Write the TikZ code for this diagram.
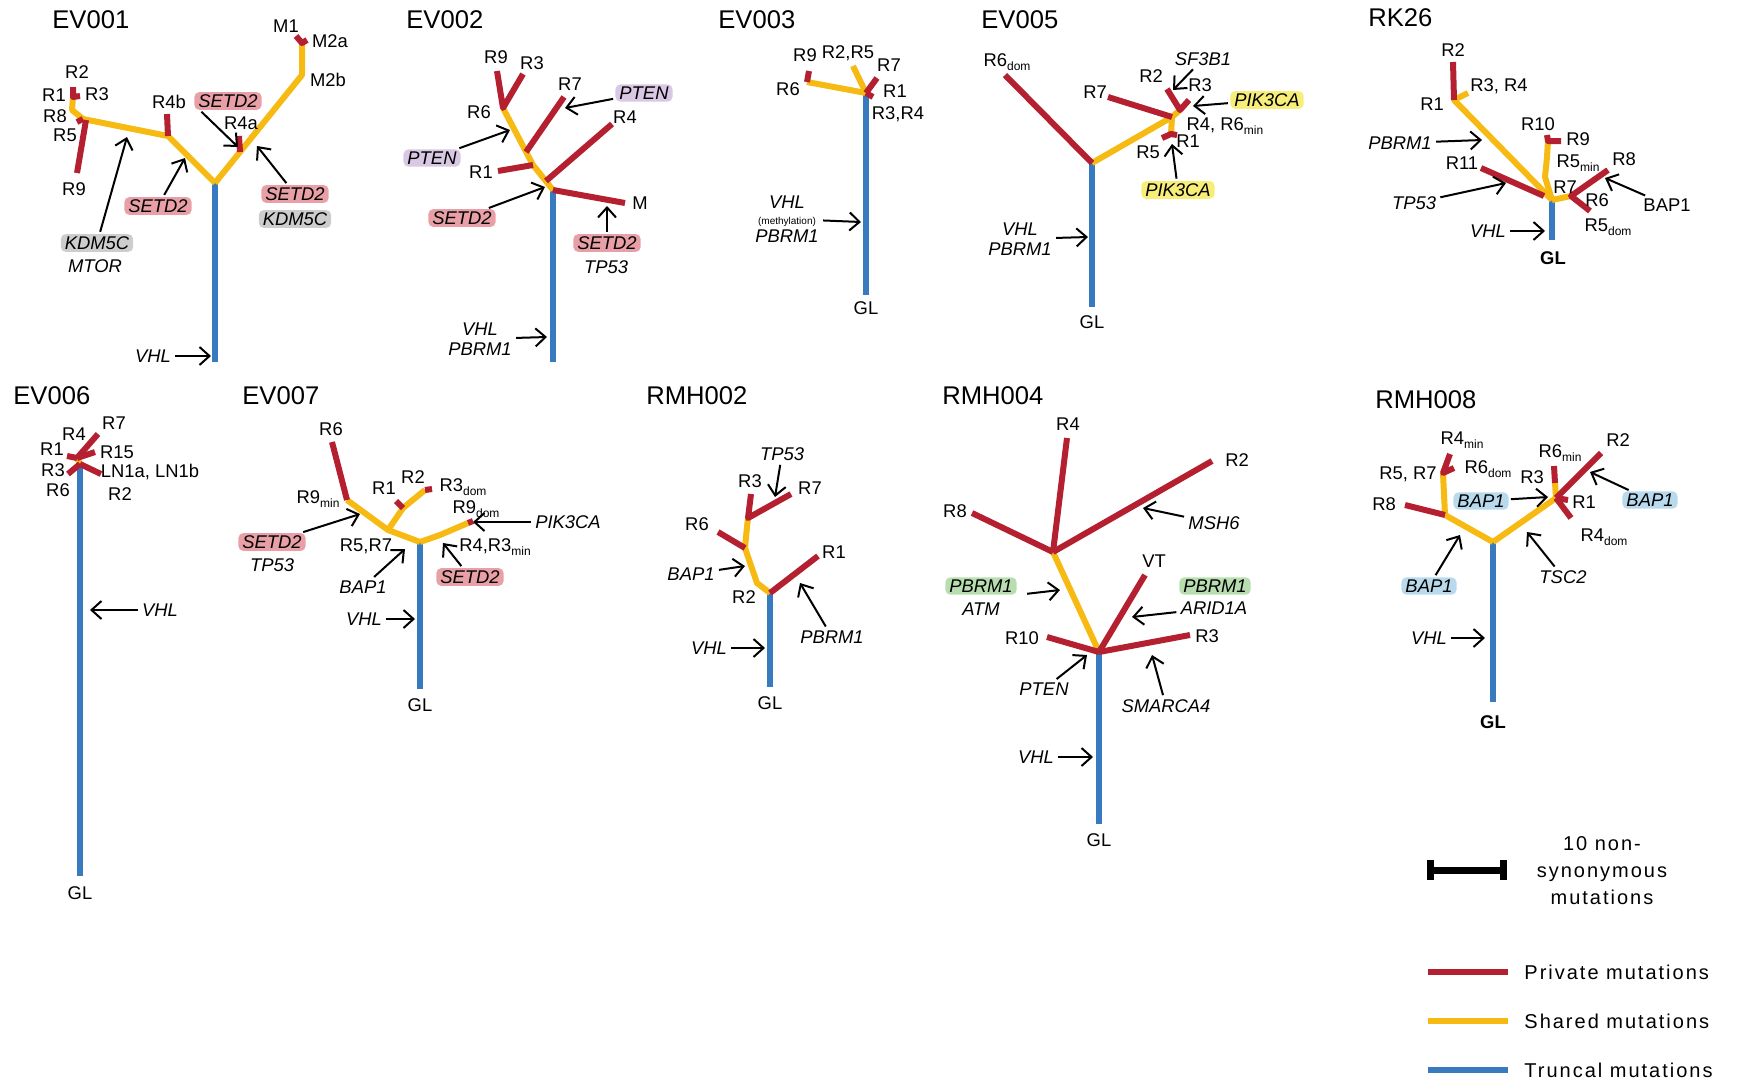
\documentclass[tikz,border=0pt]{standalone}
\usepackage{fontspec}
\setmainfont{Liberation Sans}
\usetikzlibrary{arrows.meta}

\definecolor{privred}{RGB}{180,32,48}
\definecolor{shrdyel}{RGB}{246,186,18}
\definecolor{trnkblu}{RGB}{56,122,192}
\definecolor{hlsetd}{RGB}{232,160,166}
\definecolor{hlkdm}{RGB}{205,205,205}
\definecolor{hlpten}{RGB}{216,200,228}
\definecolor{hlpik}{RGB}{246,238,120}
\definecolor{hlpbrm}{RGB}{184,222,176}
\definecolor{hlbap}{RGB}{184,218,236}

\newcommand{\subtx}[1]{\raisebox{-0.45ex}{\fontsize{6}{6}\selectfont #1}}

\tikzset{
	priv/.style={draw=privred, line width=3pt, line join=round},
	shrd/.style={draw=shrdyel, line width=3pt, line join=round},
	trnk/.style={draw=trnkblu, line width=3pt},
	hit/.style={line width=1pt, shorten <=1pt, -{Straight Barb[length=5pt,width=9pt]}},
	lbl/.style={font=\fontsize{9.2}{10}\selectfont, inner sep=1pt},
	glb/.style={font=\fontsize{9.2}{10}\selectfont\bfseries, inner sep=1pt},
	gene/.style={font=\fontsize{9.2}{10}\selectfont\itshape, inner sep=1pt},
	hl/.style={gene, fill=#1, rounded corners=2.5pt, inner xsep=2pt, inner ysep=1.2pt},
	ttl/.style={font=\fontsize{12.8}{14}\selectfont, anchor=west, inner sep=0pt},
	keytxt/.style={font=\fontsize{10}{13.5}\selectfont\addfontfeature{LetterSpace=10}, inner sep=0pt},
}

\begin{document}
\begin{tikzpicture}[x=0.5pt, y=-0.5pt]

% frame %{{{2

	\useasboundingbox (0,0) rectangle (1741,1082);

% EV001 %{{{2

\begin{scope}[name prefix=a-]

	\node[ttl] (T) at (52,20) {EV001};

	\coordinate (J) at (215,183);
	\coordinate (G) at (215,362);
	\coordinate (L1) at (168,136);
	\coordinate (L2) at (83,119);
	\coordinate (L3) at (72,110);
	\coordinate (L4) at (73,97);
	\coordinate (L5) at (86,120);
	\coordinate (U1) at (240,152);
	\coordinate (U2) at (302,75);
	\coordinate (U3) at (302,43);

	\draw[trnk] (J) -- (G);
	\draw[shrd] (J) -- (L1) -- (L2) -- (L3) -- (L4);
	\draw[shrd] (J) -- (U2) -- (U3);

	\coordinate (r2) at (73,87);
	\coordinate (r3) at (80,96);
	\coordinate (r8) at (77,122);
	\coordinate (r9) at (77,173);
	\coordinate (r4b) at (167,114);
	\coordinate (r4a) at (239,136);
	\coordinate (m1) at (296,36);
	\coordinate (m2) at (307,40);

	\draw[priv] (r2) -- (L4) -- (r3);
	\draw[priv] (L2) -- (r8);
	\draw[priv] (L5) -- (r9);
	\draw[priv] (L1) -- (r4b);
	\draw[priv] (U1) -- (r4a);
	\draw[priv] (m1) -- (U3) -- (m2);

	\node[lbl] (lM1) at (286,26) {M1};
	\node[lbl] (lM2a) at (330,41) {M2a};
	\node[lbl] (lM2b) at (328,80) {M2b};
	\node[lbl] (lR2) at (77,72) {R2};
	\node[lbl] (lR1) at (54,95) {R1};
	\node[lbl] (lR3) at (97,94) {R3};
	\node[lbl] (lR8) at (55,116) {R8};
	\node[lbl] (lR5) at (65,135) {R5};
	\node[lbl] (lR9) at (74,189) {R9};
	\node[lbl] (lR4b) at (169,102) {R4b};
	\node[lbl] (lR4a) at (241,123) {R4a};

	\node[hl=hlsetd] (s1) at (228,101) {SETD2};
	\node[hl=hlsetd] (s2) at (158,206) {SETD2};
	\node[hl=hlkdm] (k1) at (97,243) {KDM5C};
	\node[gene] (mt) at (95,266) {MTOR};
	\node[hl=hlsetd] (s3) at (295,194) {SETD2};
	\node[hl=hlkdm] (k2) at (295,219) {KDM5C};
	\node[gene] (v) at (153,356) {VHL};

	\coordinate (t1) at (238,147);
	\coordinate (t2) at (185,158);
	\coordinate (t3) at (127,137);
	\coordinate (t4) at (257,146);
	\coordinate (t5) at (211,356);

	\draw[hit] ([xshift=3pt]s1.south west) -- (t1);
	\draw[hit] (s2) -- (t2);
	\draw[hit] (k1) -- (t3);
	\draw[hit] (s3) -- (t4);
	\draw[hit] (v) -- (t5);

\end{scope}

% EV002 %{{{2

\begin{scope}[name prefix=b-]

	\node[ttl] (T) at (406,20) {EV002};

	\coordinate (J) at (553,190);
	\coordinate (G) at (553,362);
	\coordinate (Y1) at (533,165);
	\coordinate (Y2) at (503,108);
	\coordinate (Y3) at (526,152);
	\coordinate (Y4) at (546,181);

	\draw[trnk] (J) -- (G);
	\draw[shrd] (J) -- (Y1) -- (Y2);

	\coordinate (r1) at (498,171);
	\coordinate (r7) at (564,97);
	\coordinate (r4) at (612,124);
	\coordinate (rm) at (625,203);
	\coordinate (r9) at (497,71);
	\coordinate (r3) at (523,74);

	\draw[priv] (Y1) -- (r1);
	\draw[priv] (Y3) -- (r7);
	\draw[priv] (Y4) -- (r4);
	\draw[priv] (J) -- (rm);
	\draw[priv] (r9) -- (Y2) -- (r3);

	\node[lbl] (lR9) at (496,57) {R9};
	\node[lbl] (lR3) at (532,63) {R3};
	\node[lbl] (lR7) at (570,84) {R7};
	\node[lbl] (lR6) at (479,112) {R6};
	\node[lbl] (lR4) at (625,117) {R4};
	\node[lbl] (lR1) at (481,172) {R1};
	\node[lbl] (lM) at (640,203) {M};

	\node[hl=hlpten] (p1) at (644,93) {PTEN};
	\node[hl=hlpten] (p2) at (432,158) {PTEN};
	\node[hl=hlsetd] (s1) at (462,218) {SETD2};
	\node[hl=hlsetd] (s2) at (607,243) {SETD2};
	\node[gene] (tp) at (606,267) {TP53};
	\node[gene, align=center] (v) at (480,339) {VHL\\PBRM1};

	\coordinate (t1) at (565,108);
	\coordinate (t2) at (510,130);
	\coordinate (t3) at (545,187);
	\coordinate (t4) at (607,206);
	\coordinate (t5) at (547,337);

	\draw[hit] (p1) -- (t1);
	\draw[hit] (p2) -- (t2);
	\draw[hit] (s1) -- (t3);
	\draw[hit] (s2) -- (t4);
	\draw[hit] (v) -- (t5);

\end{scope}

% EV003 %{{{2

\begin{scope}[name prefix=c-]

	\node[ttl] (T) at (718,20) {EV003};

	\coordinate (J) at (866,93);
	\coordinate (G) at (866,295);
	\coordinate (Y1) at (807,82);
	\coordinate (Y2) at (853,66);

	\draw[trnk] (J) -- (G);
	\draw[shrd] (J) -- (Y1);
	\draw[shrd] (J) -- (Y2);

	\coordinate (r9) at (809,71);
	\coordinate (r7) at (877,78);
	\coordinate (r1) at (873,97);

	\draw[priv] (Y1) -- (r9);
	\draw[priv] (J) -- (r7);
	\draw[priv] (J) -- (r1);

	\node[lbl] (lR9) at (805,55) {R9};
	\node[lbl] (lR25) at (848,53) {R2,R5};
	\node[lbl] (lR7) at (889,65) {R7};
	\node[lbl] (lR6) at (788,89) {R6};
	\node[lbl] (lR1) at (895,91) {R1};
	\node[lbl] (lR34) at (898,114) {R3,R4};
	\node[lbl] (lGL) at (866,308) {GL};

	\node[gene, align=center] (v) at (787,219)
		{VHL\\[-2pt]{\upshape\fontsize{5}{6}\selectfont(methylation)}\\[-1pt]PBRM1};
	\coordinate (t1) at (861,222);
	\draw[hit] (v) -- (t1);

\end{scope}

% EV005 %{{{2

\begin{scope}[name prefix=d-]

	\node[ttl] (T) at (981,20) {EV005};

	\coordinate (J) at (1092,163);
	\coordinate (G) at (1092,307);
	\coordinate (Y1) at (1172,117);
	\coordinate (Y2) at (1180,110);
	\coordinate (Y3) at (1171,134);

	\draw[trnk] (J) -- (G);
	\draw[shrd] (J) -- (Y1) -- (Y2);
	\draw[shrd] (Y1) -- (Y3);

	\coordinate (r6) at (1005,75);
	\coordinate (r7) at (1108,97);
	\coordinate (r2) at (1167,89);
	\coordinate (r3) at (1189,100);
	\coordinate (r5) at (1162,138);
	\coordinate (r1) at (1177,135);

	\draw[priv] (J) -- (r6);
	\draw[priv] (Y1) -- (r7);
	\draw[priv] (r2) -- (Y2) -- (r3);
	\draw[priv] (r5) -- (Y3) -- (r1);

	\node[lbl] (lR6) at (1007,62) {R6\subtx{dom}};
	\node[lbl] (lR7) at (1095,92) {R7};
	\node[lbl] (lR2) at (1151,76) {R2};
	\node[lbl] (lR3) at (1200,85) {R3};
	\node[lbl] (lR4) at (1225,126) {R4, R6\subtx{min}};
	\node[lbl] (lR1) at (1188,141) {R1};
	\node[lbl] (lR5) at (1148,152) {R5};
	\node[lbl] (lGL) at (1092,322) {GL};

	\node[gene] (sf) at (1203,59) {SF3B1};
	\node[hl=hlpik] (pk1) at (1267,100) {PIK3CA};
	\node[hl=hlpik] (pk2) at (1178,190) {PIK3CA};
	\node[gene, align=center] (v) at (1020,239) {VHL\\PBRM1};

	\coordinate (t1) at (1173,90);
	\coordinate (t2) at (1193,106);
	\coordinate (t3) at (1172,144);
	\coordinate (t4) at (1088,237);

	\draw[hit] (sf) -- (t1);
	\draw[hit] (pk1) -- (t2);
	\draw[hit] (pk2) -- (t3);
	\draw[hit] (v) -- (t4);

\end{scope}

% RK26 %{{{2

\begin{scope}[name prefix=e-]

	\node[ttl] (T) at (1368,18) {RK26};

	\coordinate (J) at (1552,200);
	\coordinate (G) at (1552,240);
	\coordinate (Y1) at (1454,100);
	\coordinate (Y2) at (1468,93);
	\coordinate (Y3) at (1545,177);
	\coordinate (Y4) at (1547,157);
	\coordinate (Y5) at (1548,141);
	\coordinate (Y6) at (1571,196);
	\coordinate (Y7) at (1544,196);

	\draw[trnk] (J) -- (G);
	\draw[shrd] (J) -- (Y1) -- (Y2);
	\draw[shrd] (J) -- (Y3) -- (Y4) -- (Y5);
	\draw[shrd] (J) -- (Y6);

	\coordinate (r2) at (1453,62);
	\coordinate (r9) at (1561,141);
	\coordinate (r10) at (1547,135);
	\coordinate (r11) at (1481,168);
	\coordinate (r8) at (1608,170);
	\coordinate (r5) at (1590,211);

	\draw[priv] (Y1) -- (r2);
	\draw[priv] (r10) -- (Y5) -- (r9);
	\draw[priv] (Y7) -- (r11);
	\draw[priv] (r8) -- (Y6) -- (r5);

	\node[lbl] (lR2) at (1453,50) {R2};
	\node[lbl] (lR34) at (1499,86) {R3, R4};
	\node[lbl] (lR1) at (1432,104) {R1};
	\node[lbl] (lR10) at (1538,124) {R10};
	\node[lbl] (lR9) at (1578,139) {R9};
	\node[lbl] (lR11) at (1462,163) {R11};
	\node[lbl] (lR5m) at (1578,163) {R5\subtx{min}};
	\node[lbl] (lR8) at (1624,159) {R8};
	\node[lbl] (lR7) at (1565,187) {R7};
	\node[lbl] (lR6) at (1597,200) {R6};
	\node[lbl] (lR5d) at (1608,227) {R5\subtx{dom}};
	\node[glb] (lGL) at (1553,258) {GL};

	\node[lbl] (bp) at (1667,205) {BAP1};
	\node[gene] (pb) at (1400,143) {PBRM1};
	\node[gene] (tp) at (1414,203) {TP53};
	\node[gene] (v) at (1488,231) {VHL};

	\coordinate (t1) at (1605,178);
	\coordinate (t2) at (1482,140);
	\coordinate (t3) at (1506,183);
	\coordinate (t4) at (1545,231);

	\draw[hit] (bp) -- (t1);
	\draw[hit] (pb) -- (t2);
	\draw[hit] (tp) -- (t3);
	\draw[hit] (v) -- (t4);

\end{scope}

% EV006 %{{{2

\begin{scope}[name prefix=f-]

	\node[ttl] (T) at (13,396) {EV006};

	\coordinate (J) at (80,464);
	\coordinate (G) at (80,876);
	\coordinate (Y) at (77,458);

	\draw[trnk] (J) -- (G);
	\draw[shrd] (J) -- (Y);

	\coordinate (r7) at (98,434);
	\coordinate (r1) at (67,456);
	\coordinate (r15) at (95,452);
	\coordinate (r3) at (68,474);
	\coordinate (r2) at (101,474);

	\draw[priv] (Y) -- (r7);
	\draw[priv] (Y) -- (r1);
	\draw[priv] (Y) -- (r15);
	\draw[priv] (J) -- (r3);
	\draw[priv] (J) -- (r2);

	\node[lbl] (lR7) at (114,423) {R7};
	\node[lbl] (lR4) at (74,434) {R4};
	\node[lbl] (lR1) at (52,449) {R1};
	\node[lbl] (lR15) at (117,452) {R15};
	\node[lbl] (lR3) at (53,470) {R3};
	\node[lbl] (lLN) at (150,472) {LN1a, LN1b};
	\node[lbl] (lR6) at (58,490) {R6};
	\node[lbl] (lR2) at (120,494) {R2};
	\node[lbl] (lGL) at (80,893) {GL};

	\node[gene] (v) at (160,610) {VHL};
	\coordinate (t1) at (90,610);
	\draw[hit] (v) -- (t1);

\end{scope}

% EV007 %{{{2

\begin{scope}[name prefix=g-]

	\node[ttl] (T) at (242,396) {EV007};

	\coordinate (J) at (420,542);
	\coordinate (G) at (420,689);
	\coordinate (Y1) at (388,530);
	\coordinate (Y2) at (347,500);
	\coordinate (Y3) at (403,508);
	\coordinate (Y4) at (425,490);
	\coordinate (Y5) at (440,535);
	\coordinate (Y6) at (468,523);

	\draw[trnk] (J) -- (G);
	\draw[shrd] (J) -- (Y1) -- (Y2);
	\draw[shrd] (Y1) -- (Y3) -- (Y4);
	\draw[shrd] (J) -- (Y5) -- (Y6);

	\coordinate (r6) at (332,442);
	\coordinate (r1) at (396,501);
	\coordinate (r3) at (432,489);
	\coordinate (r9) at (473,521);

	\draw[priv] (Y2) -- (r6);
	\draw[priv] (Y3) -- (r1);
	\draw[priv] (Y4) -- (r3);
	\draw[priv] (Y6) -- (r9);

	\node[lbl] (lR6) at (331,429) {R6};
	\node[lbl] (lR9m) at (318,499) {R9\subtx{min}};
	\node[lbl] (lR1) at (384,488) {R1};
	\node[lbl] (lR2) at (413,477) {R2};
	\node[lbl] (lR3d) at (463,487) {R3\subtx{dom}};
	\node[lbl] (lR9d) at (476,509) {R9\subtx{dom}};
	\node[lbl] (lR57) at (366,546) {R5,R7};
	\node[lbl] (lR43) at (495,547) {R4,R3\subtx{min}};
	\node[lbl] (lGL) at (420,705) {GL};

	\node[gene] (pk) at (568,522) {PIK3CA};
	\node[hl=hlsetd] (s1) at (272,542) {SETD2};
	\node[gene] (tp) at (272,565) {TP53};
	\node[gene] (bp) at (363,587) {BAP1};
	\node[hl=hlsetd] (s2) at (470,577) {SETD2};
	\node[gene] (v) at (364,619) {VHL};

	\coordinate (t1) at (473,522);
	\coordinate (t2) at (360,514);
	\coordinate (t3) at (405,549);
	\coordinate (t4) at (443,543);
	\coordinate (t5) at (415,619);

	\draw[hit] (pk) -- (t1);
	\draw[hit] (s1) -- (t2);
	\draw[hit] (bp) -- (t3);
	\draw[hit] (s2) -- (t4);
	\draw[hit] (v) -- (t5);

\end{scope}

% RMH002 %{{{2

\begin{scope}[name prefix=h-]

	\node[ttl] (T) at (646,396) {RMH002};

	\coordinate (J) at (770,593);
	\coordinate (G) at (770,687);
	\coordinate (Y1) at (757,583);
	\coordinate (Y2) at (745,548);
	\coordinate (Y3) at (747,527);
	\coordinate (Y4) at (748,518);

	\draw[trnk] (J) -- (G);
	\draw[shrd] (J) -- (Y1) -- (Y2) -- (Y3) -- (Y4);

	\coordinate (r1) at (818,556);
	\coordinate (r6) at (718,532);
	\coordinate (r3) at (751,494);
	\coordinate (r7) at (791,494);

	\draw[priv] (J) -- (r1);
	\draw[priv] (Y2) -- (r6);
	\draw[priv] (r3) -- (Y4) -- (r7);

	\node[lbl] (lR3) at (750,481) {R3};
	\node[lbl] (lR7) at (810,488) {R7};
	\node[lbl] (lR6) at (697,524) {R6};
	\node[lbl] (lR1) at (834,552) {R1};
	\node[lbl] (lR2) at (744,597) {R2};
	\node[lbl] (lGL) at (770,703) {GL};

	\node[gene] (tp) at (782,454) {TP53};
	\node[gene] (bp) at (691,574) {BAP1};
	\node[gene] (pb) at (832,637) {PBRM1};
	\node[gene] (v) at (709,648) {VHL};

	\coordinate (t1) at (775,497);
	\coordinate (t2) at (745,566);
	\coordinate (t3) at (800,583);
	\coordinate (t4) at (765,648);

	\draw[hit] (tp) -- (t1);
	\draw[hit] (bp) -- (t2);
	\draw[hit] (pb) -- (t3);
	\draw[hit] (v) -- (t4);

\end{scope}

% RMH004 %{{{2

\begin{scope}[name prefix=i-]

	\node[ttl] (T) at (942,396) {RMH004};

	\coordinate (J) at (1099,652);
	\coordinate (G) at (1099,824);
	\coordinate (Y) at (1053,552);

	\draw[trnk] (J) -- (G);
	\draw[shrd] (J) -- (Y);

	\coordinate (r10) at (1047,637);
	\coordinate (rvt) at (1145,575);
	\coordinate (r3) at (1190,635);
	\coordinate (r8) at (972,513);
	\coordinate (r4) at (1067,438);
	\coordinate (r2) at (1212,461);

	\draw[priv] (J) -- (r10);
	\draw[priv] (J) -- (rvt);
	\draw[priv] (J) -- (r3);
	\draw[priv] (Y) -- (r8);
	\draw[priv] (Y) -- (r4);
	\draw[priv] (Y) -- (r2);

	\node[lbl] (lR4) at (1068,424) {R4};
	\node[lbl] (lR2) at (1237,460) {R2};
	\node[lbl] (lR8) at (955,511) {R8};
	\node[lbl] (lVT) at (1154,561) {VT};
	\node[lbl] (lR10) at (1022,638) {R10};
	\node[lbl] (lR3) at (1207,636) {R3};
	\node[lbl] (lGL) at (1099,840) {GL};

	\node[gene] (ms) at (1214,523) {MSH6};
	\node[hl=hlpbrm] (pb1) at (981,586) {PBRM1};
	\node[gene] (at) at (981,609) {ATM};
	\node[hl=hlpbrm] (pb2) at (1215,586) {PBRM1};
	\node[gene] (ar) at (1214,608) {ARID1A};
	\node[gene] (pt) at (1044,689) {PTEN};
	\node[gene] (sm) at (1166,706) {SMARCA4};
	\node[gene] (v) at (1036,757) {VHL};

	\coordinate (t1) at (1143,508);
	\coordinate (t2) at (1060,590);
	\coordinate (t3) at (1132,617);
	\coordinate (t4) at (1087,655);
	\coordinate (t5) at (1152,655);
	\coordinate (t6) at (1093,757);

	\draw[hit] (ms) -- (t1);
	\draw[hit] ([xshift=4pt,yshift=-4pt]pb1.east) -- (t2);
	\draw[hit] (ar) -- (t3);
	\draw[hit] (pt) -- (t4);
	\draw[hit] (sm) -- (t5);
	\draw[hit] (v) -- (t6);

\end{scope}

% RMH008 %{{{2

\begin{scope}[name prefix=j-]

	\node[ttl] (T) at (1375,400) {RMH008};

	\coordinate (J) at (1493,542);
	\coordinate (G) at (1493,702);
	\coordinate (Y1) at (1445,515);
	\coordinate (Y2) at (1443,473);
	\coordinate (Y3) at (1556,498);
	\coordinate (Y4) at (1555,483);

	\draw[trnk] (J) -- (G);
	\draw[shrd] (J) -- (Y1) -- (Y2);
	\draw[shrd] (J) -- (Y3) -- (Y4);

	\coordinate (r4) at (1450,454);
	\coordinate (r6) at (1454,468);
	\coordinate (r8) at (1405,505);
	\coordinate (r6m) at (1554,466);
	\coordinate (r2) at (1601,453);
	\coordinate (r4d) at (1571,518);
	\coordinate (r1) at (1568,500);

	\draw[priv] (r4) -- (Y2) -- (r6);
	\draw[priv] (Y1) -- (r8);
	\draw[priv] (Y4) -- (r6m);
	\draw[priv] (Y3) -- (r2);
	\draw[priv] (Y3) -- (r4d);
	\draw[priv] (Y3) -- (r1);

	\node[lbl] (lR4m) at (1462,440) {R4\subtx{min}};
	\node[lbl] (lR6d) at (1488,469) {R6\subtx{dom}};
	\node[lbl] (lR57) at (1408,474) {R5, R7};
	\node[lbl] (lR8) at (1384,504) {R8};
	\node[lbl] (lR6m) at (1560,453) {R6\subtx{min}};
	\node[lbl] (lR3) at (1532,477) {R3};
	\node[lbl] (lR2) at (1618,440) {R2};
	\node[lbl] (lR1) at (1584,502) {R1};
	\node[lbl] (lR4d) at (1604,537) {R4\subtx{dom}};
	\node[glb] (lGL) at (1493,722) {GL};

	\node[hl=hlbap] (bp1) at (1481,501) {BAP1};
	\node[hl=hlbap] (bp2) at (1650,500) {BAP1};
	\node[hl=hlbap] (bp3) at (1429,586) {BAP1};
	\node[gene] (ts) at (1563,577) {TSC2};
	\node[gene] (v) at (1429,638) {VHL};

	\coordinate (t1) at (1548,497);
	\coordinate (t2) at (1590,472);
	\coordinate (t3) at (1460,535);
	\coordinate (t4) at (1527,532);
	\coordinate (t5) at (1485,638);

	\draw[hit] (bp1) -- (t1);
	\draw[hit] (bp2) -- (t2);
	\draw[hit] (bp3) -- (t3);
	\draw[hit] (ts) -- (t4);
	\draw[hit] (v) -- (t5);

\end{scope}

% legend %{{{2

\begin{scope}[name prefix=k-]

	\coordinate (sa) at (1427,870);
	\coordinate (sb) at (1507,870);
	\draw[line width=3.5pt, {Bar[width=10pt]}-{Bar[width=10pt]}] (sa) -- (sb);
	\node[keytxt, align=center] (sc) at (1602,871) {10 non-\\synonymous\\mutations};

	\foreach \col/\txt/\y [count=\i] in {privred/Private mutations/972,
			shrdyel/Shared mutations/1021, trnkblu/Truncal mutations/1070} {
		\coordinate (a\i) at (1428,\y);
		\coordinate (b\i) at (1508,\y);
		\draw[draw=\col, line width=3pt] (a\i) -- (b\i);
		\node[keytxt, anchor=west] (n\i) at (1524,\y) {\txt};
	}

\end{scope}

% closing %{{{2

\end{tikzpicture}
\end{document}
